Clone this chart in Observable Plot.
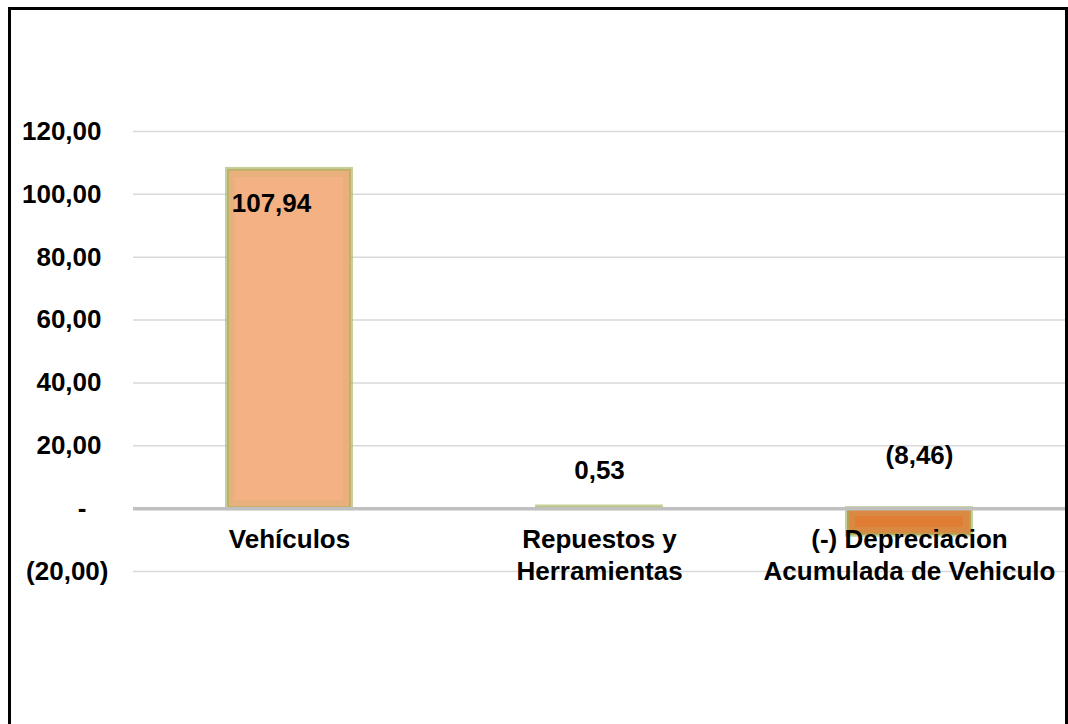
<!DOCTYPE html>
<html>
<head>
<meta charset="utf-8">
<script src="https://cdn.jsdelivr.net/npm/d3@7"></script>
<script src="https://cdn.jsdelivr.net/npm/@observablehq/plot@0.6"></script>
<style>
  html, body { margin: 0; padding: 0; background: #fff; }
  #wrap { position: relative; width: 1068px; height: 724px; overflow: hidden; font-family: "Liberation Sans", Arial, sans-serif; }
  #frame { position: absolute; left: 8px; top: 7px; width: 1060px; height: 740px; border: 3px solid #000; box-sizing: border-box; }
  #chart { position: absolute; left: 0; top: 0; }
</style>
</head>
<body>
<div id="wrap">
  <div id="frame"></div>
  <div id="chart"></div>
</div>
<script>
const categories = ["Vehículos", "Repuestos y Herramientas", "(-) Depreciacion Acumulada de Vehiculo"];
const categoryLabels = ["Vehículos", "Repuestos y\nHerramientas", "(-) Depreciacion\nAcumulada de Vehiculo"];
const values = [107.94, 0.53, -8.46];
const barColors = ["#F4B183", "#F4B183", "#E07C34"];
const yTicks = [-20, 0, 20, 40, 60, 80, 100, 120];

const data = categories.map((c, i) => ({name: c, label: categoryLabels[i], value: values[i], color: barColors[i]}));

const fmt = v => {
  if (v === 0) return "-";
  const s = Math.abs(v).toFixed(2).replace(".", ",");
  return v < 0 ? `(${s})` : s;
};

const font = {fontFamily: "Liberation Sans, Arial, sans-serif", fontWeight: "bold", fontSize: 26, fill: "#000"};

const plot = Plot.plot({
  width: 1068,
  height: 724,
  marginLeft: 133,
  marginRight: 3,
  marginTop: 131,
  marginBottom: 153,
  style: {fontFamily: "Liberation Sans, Arial, sans-serif", background: "transparent", overflow: "visible"},
  x: {domain: categories, paddingInner: 0.6, paddingOuter: 0.3, axis: null},
  y: {domain: [-20, 120], axis: null},
  marks: [
    Plot.ruleY(yTicks.filter(d => d !== 0), {stroke: "#d9d9d9", strokeWidth: 1.5}),
    Plot.barY(data, {x: "name", y: "value", fill: "color", stroke: "#9bb35a", strokeWidth: 4, strokeOpacity: 0.6}),
    Plot.barY(data, {x: "name", y: "value", fill: "none", stroke: "#c4b06a", strokeWidth: 8, strokeOpacity: 0.25, inset: 4}),
    Plot.ruleY([0], {stroke: "#c0c0c0", strokeWidth: 3.5}),
    Plot.axisY(yTicks.filter(d => d > 0), {label: null, tickSize: 0, tickPadding: 32, tickFormat: fmt, ...font, textAnchor: "end"}),
    Plot.axisY(yTicks.filter(d => d < 0), {label: null, tickSize: 0, tickPadding: 25, tickFormat: fmt, ...font, textAnchor: "end"}),
    Plot.axisY(yTicks.filter(d => d === 0), {label: null, tickSize: 0, tickPadding: 47, tickFormat: fmt, ...font, textAnchor: "end"}),
    Plot.text(data.filter((d, i) => i === 0), {x: "name", y: "value", text: d => fmt(d.value), ...font, dx: -18, dy: 34}),
    Plot.text(data.filter((d, i) => i === 1), {x: "name", y: "value", text: d => fmt(d.value), ...font, dy: -36}),
    Plot.text(data.filter((d, i) => i === 2), {x: "name", y: d => 0, text: d => fmt(d.value), ...font, dx: 10, dy: -53}),
    Plot.text(data, {x: "name", y: d => 0, text: "label", ...font, lineAnchor: "top", lineHeight: 1.23, dy: 17})
  ]
});
document.getElementById("chart").appendChild(plot);
</script>
</body>
</html>
